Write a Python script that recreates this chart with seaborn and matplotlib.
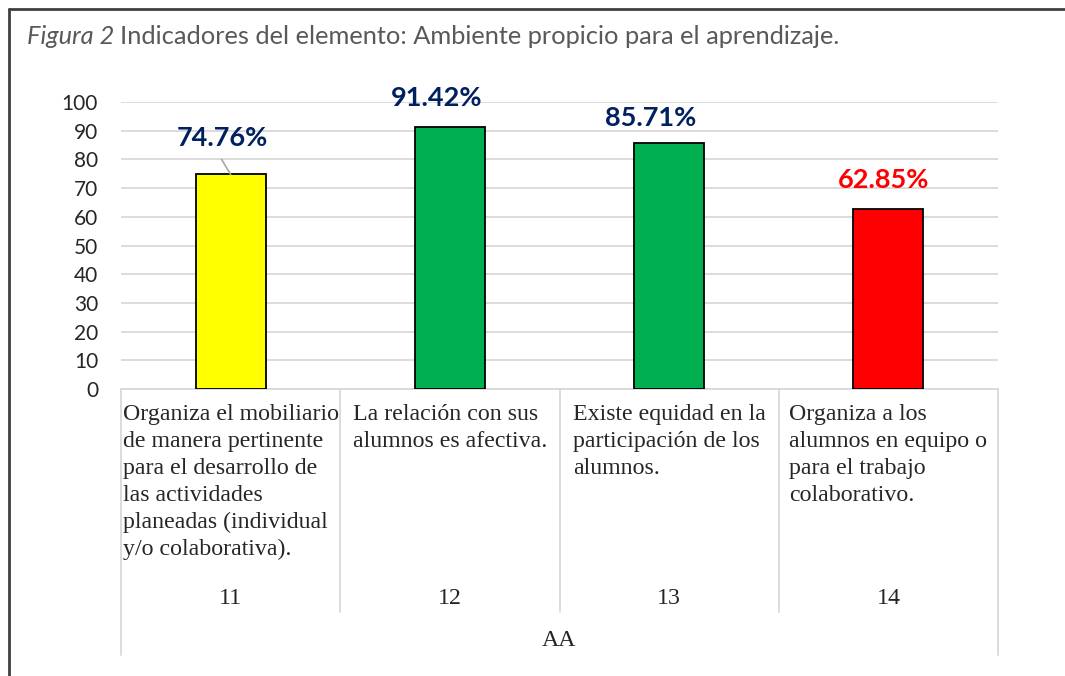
import numpy as np
import pandas as pd
import matplotlib
matplotlib.use("Agg")
import matplotlib.pyplot as plt
import seaborn as sns
from matplotlib.lines import Line2D

# data
codes = ["11", "12", "13", "14"]
descriptions = [
    "Organiza el mobiliario\nde manera pertinente\npara el desarrollo de\nlas actividades\nplaneadas (individual\ny/o colaborativa).",
    "La relación con sus\nalumnos es afectiva.",
    "Existe equidad en la\nparticipación de los\nalumnos.",
    "Organiza a los\nalumnos en equipo o\npara el trabajo\ncolaborativo.",
]
values = [74.76, 91.42, 85.71, 62.85]
bar_colors = ["#FFFF00", "#00B050", "#00B050", "#FF0000"]
label_colors = ["#002060", "#002060", "#002060", "#FF0000"]
group_name = "AA"
y_ticks = [0, 10, 20, 30, 40, 50, 60, 70, 80, 90, 100]

df = pd.DataFrame({"code": codes, "value": values})

sns.set_style("white")
W, H = 1065, 676
fig = plt.figure(figsize=(W / 100, H / 100), dpi=100)
ax = fig.add_axes([121 / W, 1 - 389 / H, (998 - 121) / W, (389 - 102) / H])

sns.barplot(data=df, x="code", y="value", hue="code", palette=bar_colors,
            order=codes, hue_order=codes, legend=False, width=0.32,
            saturation=1, edgecolor="black", linewidth=1.3, ax=ax, zorder=3)

ax.set_ylim(0, 100)
ax.set_xlim(-0.5, len(codes) - 0.5)
ax.set_yticks(y_ticks)
ax.set_yticklabels([str(t) for t in y_ticks], fontsize=15, family="Lato")
ax.tick_params(axis="y", length=0, pad=16.5)
ax.tick_params(axis="x", length=0, labelbottom=False)
ax.grid(axis="y", color="#d9d9d9", lw=1.3, zorder=0)
ax.set_axisbelow(True)
for s in ["left", "right", "top"]:
    ax.spines[s].set_visible(False)
ax.spines["bottom"].set_color("#d9d9d9")
ax.spines["bottom"].set_linewidth(1.3)
ax.set_xlabel("")
ax.set_ylabel("")

# data labels
offsets = [(-8, 36), (-13, 29), (-18, 25), (-5, 29)]
for i, (v, c) in enumerate(zip(values, label_colors)):
    ax.annotate(f"{v:.2f}%", xy=(i, v), xytext=offsets[i], textcoords="offset pixels",
                ha="center", va="center", fontsize=19.5, fontweight="bold",
                family="Lato", color=c, annotation_clip=False)
# leader line for first label
ax.annotate("", xy=(0, values[0]), xytext=(-9, 15), textcoords="offset pixels",
            arrowprops=dict(arrowstyle="-", color="#a6a6a6", lw=1.2,
                            shrinkA=0, shrinkB=0), annotation_clip=False)

# multi-level category axis
tr = ax.get_xaxis_transform()
inner_bot = -(612 - 389) / 287
outer_bot = -(655 - 389) / 287
bounds = np.arange(len(codes) + 1) - 0.5
for j, b in enumerate(bounds):
    bottom = outer_bot if j in (0, len(bounds) - 1) else inner_bot
    ax.plot([b, b], [0, bottom], transform=tr, color="#d9d9d9", lw=1.3, clip_on=False)

for i, (d, c) in enumerate(zip(descriptions, codes)):
    ax.text(i, -(404 - 389) / 287, d, transform=tr, ha="center", va="top",
            multialignment="left", fontsize=17.2, family="Liberation Serif",
            linespacing=1.37)
    ax.text(i, -(598 - 389) / 287, c, transform=tr, ha="center", va="center",
            fontsize=17.2, family="Liberation Serif")
ax.text((len(codes) - 1) / 2, -(640 - 389) / 287, group_name, transform=tr,
        ha="center", va="center", fontsize=17.2, family="Liberation Serif")

# frame lines
fig.add_artist(Line2D([9 / W, 1], [1 - 9 / H, 1 - 9 / H], color="#404040", lw=2))
fig.add_artist(Line2D([9 / W, 9 / W], [0, 1 - 9 / H], color="#404040", lw=2))

# title
t1 = fig.text(27 / W, 1 - 36 / H, "Figura 2", fontsize=18.3, style="italic",
              family="Lato", color="#595959", va="center")
fig.canvas.draw()
bb = t1.get_window_extent()
fig.text((bb.x1 + 6) / W, 1 - 36 / H,
         "Indicadores del elemento: Ambiente propicio para el aprendizaje.",
         fontsize=18.3, family="Lato", color="#595959", va="center")

fig.savefig("out.png", dpi=100)
